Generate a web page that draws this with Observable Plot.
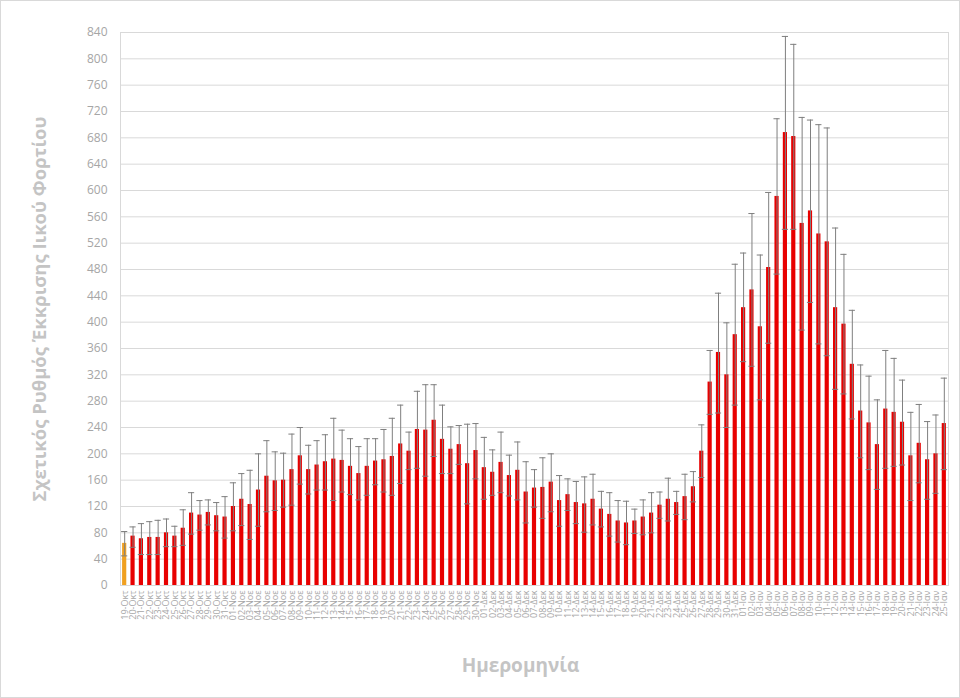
<!DOCTYPE html>
<html>
<head>
<meta charset="utf-8">
<script src="https://cdn.jsdelivr.net/npm/d3@7"></script>
<script src="https://cdn.jsdelivr.net/npm/@observablehq/plot@0.6"></script>
<style>
  html, body { margin: 0; padding: 0; background: #fff; }
  #wrap { position: relative; width: 960px; height: 698px; }
  #border { position: absolute; left: 0; top: 0; width: 960px; height: 698px; box-sizing: border-box; border: 1px solid #d9d9d9; pointer-events: none; }
</style>
</head>
<body>
<div id="wrap"><div id="border"></div></div>
<script>
const dates = [
  "19-Οκτ","20-Οκτ","21-Οκτ","22-Οκτ","23-Οκτ","24-Οκτ","25-Οκτ","26-Οκτ","27-Οκτ","28-Οκτ","29-Οκτ","30-Οκτ","31-Οκτ",
  "01-Νοε","02-Νοε","03-Νοε","04-Νοε","05-Νοε","06-Νοε","07-Νοε","08-Νοε","09-Νοε","10-Νοε",
  "11-Νοε","12-Νοε","13-Νοε","14-Νοε","15-Νοε","16-Νοε","17-Νοε","18-Νοε","19-Νοε","20-Νοε",
  "21-Νοε","22-Νοε","23-Νοε","24-Νοε","25-Νοε","26-Νοε","27-Νοε","28-Νοε","29-Νοε","30-Νοε",
  "01-Δεκ","02-Δεκ","03-Δεκ","04-Δεκ","05-Δεκ","06-Δεκ","07-Δεκ","08-Δεκ","09-Δεκ","10-Δεκ",
  "11-Δεκ","12-Δεκ","13-Δεκ","14-Δεκ","15-Δεκ","16-Δεκ","17-Δεκ","18-Δεκ","19-Δεκ","20-Δεκ",
  "21-Δεκ","22-Δεκ","23-Δεκ","24-Δεκ","25-Δεκ","26-Δεκ","27-Δεκ","28-Δεκ","29-Δεκ","30-Δεκ","31-Δεκ",
  "01-Ιαν","02-Ιαν","03-Ιαν","04-Ιαν","05-Ιαν","06-Ιαν","07-Ιαν","08-Ιαν","09-Ιαν","10-Ιαν",
  "11-Ιαν","12-Ιαν","13-Ιαν","14-Ιαν","15-Ιαν","16-Ιαν","17-Ιαν","18-Ιαν","19-Ιαν","20-Ιαν",
  "21-Ιαν","22-Ιαν","23-Ιαν","24-Ιαν","25-Ιαν"
];

const values = [
  64,75,71,73,73,80,75,87,110,107,111,106,104,
  120,131,123,145,166,159,160,176,197,176,183,188,192,190,181,170,181,189,191,196,215,204,237,236,251,222,207,214,185,205,
  179,172,187,167,175,142,148,149,157,129,138,126,124,131,116,108,98,95,98,104,110,122,131,126,135,150,204,309,354,320,381,
  422,449,393,483,591,688,682,550,569,534,522,422,397,336,265,247,214,268,263,248,197,216,191,200,246
];

const upper = [
  82,89,94,97,99,101,90,115,141,129,130,126,135,
  156,170,175,200,220,203,201,230,240,213,220,229,254,236,223,211,223,223,237,254,274,233,295,305,305,274,241,243,245,246,
  225,206,233,198,218,188,176,194,200,167,162,158,165,169,143,141,129,128,116,130,141,142,163,143,169,173,244,357,444,399,488,
  505,565,502,597,709,834,822,711,707,700,695,543,503,418,335,318,282,357,345,312,263,275,249,259,315
];

const lower = [
  45,58,47,47,47,59,59,61,78,84,92,83,72,
  83,91,70,90,112,114,119,122,154,139,145,145,129,142,138,130,137,153,142,137,155,176,178,166,196,170,170,184,124,162,
  131,137,141,136,130,95,119,102,112,90,114,94,81,92,89,75,66,62,79,77,80,102,98,108,100,127,164,260,262,240,274,
  340,333,282,368,473,541,541,388,430,367,349,298,291,253,194,176,146,178,181,183,129,156,131,140,176
];

const yTicks = d3.range(0, 841, 40);
const yTitle = "Σχετικός Ρυθμός Έκκρισης Ιικού Φορτίου";
const xTitle = "Ημερομηνία";

const data = dates.map((d, i) => ({date: d, value: values[i], hi: upper[i], lo: lower[i], first: i === 0}));

const chart = Plot.plot({
  width: 960,
  height: 698,
  marginLeft: 120,
  marginRight: 12,
  marginTop: 32,
  marginBottom: 113,
  style: {fontFamily: "'Open Sans', sans-serif", background: "transparent"},
  x: {type: "band", domain: dates, paddingInner: 0.5, paddingOuter: 0.25, label: null},
  y: {domain: [0, 840], label: null},
  marks: [
    Plot.gridY(yTicks, {stroke: "#d9d9d9", strokeOpacity: 1}),
    Plot.frame({stroke: "#d9d9d9"}),
    Plot.axisY({ticks: yTicks, tickSize: 0, tickPadding: 13, fontSize: 12, color: "#a6a6a6", label: null}),
    Plot.axisX({tickSize: 0, tickPadding: 5, tickRotate: -90, fontSize: 9, color: "#a6a6a6", label: null}),
    Plot.barY(data, {x: "date", y: "value", fill: d => d.first ? "#f0a020" : "#e80000"}),
    Plot.ruleX(data, {x: "date", y1: "lo", y2: "hi", stroke: "#7f7f7f", strokeWidth: 1}),
    Plot.tickY(data, {x: "date", y: "hi", stroke: "#7f7f7f", strokeWidth: 1, insetLeft: -1, insetRight: -1}),
    Plot.tickY(data, {x: "date", y: "lo", stroke: "#7f7f7f", strokeWidth: 1, insetLeft: -1, insetRight: -1}),
    Plot.text([yTitle], {frameAnchor: "left", textAnchor: "middle", dx: -80, rotate: -90, fontSize: 18.5, fontWeight: "bold", fill: "#c4c4c4"}),
    Plot.text([xTitle], {frameAnchor: "bottom", textAnchor: "middle", dx: -14, dy: 86, fontSize: 19, fontWeight: "bold", fill: "#c4c4c4"})
  ]
});
document.getElementById("wrap").prepend(chart);
</script>
</body>
</html>
